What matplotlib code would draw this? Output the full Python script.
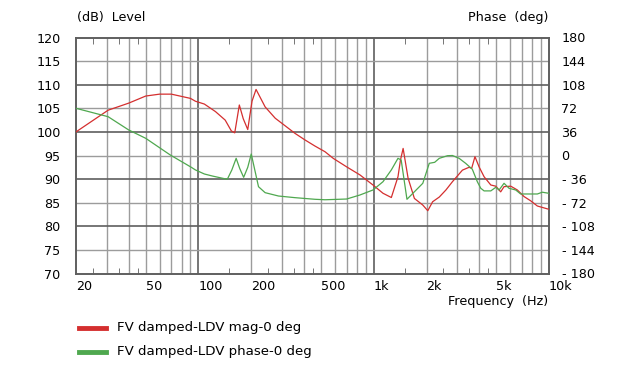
import matplotlib
matplotlib.use("Agg")
import matplotlib.pyplot as plt
import numpy as np

# magnitude trace (Hz, dB)
mag_freq = [20, 30.5, 40, 50, 60, 70, 90, 96, 108, 125, 142, 154, 161, 171, 180, 191,
            202, 213, 240, 274, 312, 355, 405, 462, 527, 587, 700, 833, 990, 1129,
            1260, 1375, 1420, 1471, 1570, 1706, 1905, 2034, 2167, 2366, 2582, 2812,
            3206, 3497, 3621, 3780, 3990, 4262, 4655, 4970, 5300, 5540, 6050, 6595,
            7205, 7860, 8580, 9780, 10000]
mag_db = [100.0, 104.6, 106.1, 107.6, 108.0, 108.0, 107.1, 106.5, 105.9, 104.3, 102.5,
          100.2, 99.8, 105.7, 102.8, 100.5, 106.5, 109.0, 105.3, 102.9, 101.3, 99.7,
          98.3, 97.0, 95.8, 94.4, 92.6, 90.9, 88.75, 87.0, 86.1, 90.5, 94.0, 96.5,
          90.2, 85.9, 84.5, 83.3, 85.2, 86.2, 87.7, 89.45, 91.9, 92.5, 92.3, 94.75,
          92.6, 90.5, 88.75, 88.5, 87.3, 88.4, 88.5, 87.7, 86.3, 85.4, 84.3, 83.7, 83.6]

# phase trace (Hz, deg)
ph_freq = [20, 30.5, 40, 50, 69, 91, 96, 108, 120, 146, 155, 164, 172, 181, 191, 200,
           220, 240, 286, 355, 462, 527, 700, 833, 990, 1129, 1260, 1375, 1434, 1547,
           1746, 1905, 2074, 2226, 2366, 2637, 2812, 3070, 3347, 3652, 3900, 4080,
           4262, 4655, 4970, 5190, 5540, 5915, 6455, 6890, 7690, 8580, 9160, 10000]
ph_deg = [72, 59.2, 38.9, 26.2, 0.8, -18, -22, -28.2, -31.3, -36.3, -22, -4.3, -20,
          -33.3, -18, 2.3, -47.6, -56.7, -61.8, -64.3, -66.8, -67.5, -66.4, -60.3,
          -52.6, -40, -22, -4.3, -6.9, -66.8, -52.6, -42.4, -11.9, -10.4, -4.3, -0.3,
          0, -4.3, -12, -21, -40, -50, -54, -54, -48.5, -52.6, -42.4, -50, -52.6,
          -58.7, -58.7, -58.7, -56, -57.7]

x_labels = ["20", "50", "100", "200", "500", "1k", "2k", "5k", "10k"]
x_label_freqs = [20, 50, 100, 200, 500, 1000, 2000, 5000, 10000]
db_ticks = list(range(70, 121, 5))
phase_ticks = [-180, -144, -108, -72, -36, 0, 36, 72, 108, 144, 180]
legend_labels = ["FV damped-LDV mag-0 deg", "FV damped-LDV phase-0 deg"]

RED = "#d42f2f"
GREEN = "#4fa84f"
DARK = "#5f5f5f"
LIGHT = "#9c9c9c"
FS = 9.2

plt.rcParams["font.family"] = ["DejaVu Sans"]

W, H = 626, 390
fig = plt.figure(figsize=(W / 100, H / 100), dpi=100)
L, R, T, B = 76, 549, 37.5, 273.5
ax = fig.add_axes([L / W, 1 - B / H, (R - L) / W, (B - T) / H])
ax.set_xscale("log")
ax.set_xlim(20, 10000)
ax.set_ylim(70, 120)

# grid
grid_freqs = [f * d for d in (10, 100, 1000) for f in range(2, 10)] + [100, 1000]
for f in grid_freqs:
    if f <= 20 or f >= 10000:
        continue
    dark = f in (100, 1000)
    ax.axvline(f, color=DARK if dark else LIGHT, lw=1.2 if dark else 1.0, zorder=0)
for v in db_ticks[1:-1]:
    dark = v % 10 == 0
    ax.axhline(v, color=DARK if dark else LIGHT, lw=1.2 if dark else 1.0, zorder=0)

for s in ax.spines.values():
    s.set_color(DARK)
    s.set_linewidth(1.4)

ax.set_xticks(x_label_freqs)
ax.set_xticklabels(x_labels)
ax.set_xticks([25, 35, 45, 150, 250, 350, 450, 1500, 2500, 3500, 4500], minor=True)
ax.xaxis.set_minor_formatter(matplotlib.ticker.NullFormatter())
ax.tick_params(axis="x", which="major", length=0, pad=5, labelsize=FS)
for lab in ax.get_xticklabels():
    lab.set_horizontalalignment("left")
ax.tick_params(axis="x", which="minor", direction="in", length=4, color=DARK,
               top=True, bottom=True)

ax.set_yticks(db_ticks)
ax.tick_params(axis="y", length=0, pad=11, labelsize=FS)

ax2 = ax.twinx()
ax2.set_ylim(-180, 180)
ax2.set_yticks(phase_ticks)
ax2.tick_params(axis="y", length=0, pad=9, labelsize=FS)
for lab in ax2.get_yticklabels():
    lab.set_horizontalalignment("left")
ax2.yaxis.set_major_formatter(matplotlib.ticker.FuncFormatter(lambda v, p: f"{v:.0f}".replace("-", "- ")))
for s in ax2.spines.values():
    s.set_visible(False)

ax.plot(mag_freq, mag_db, color=RED, lw=0.9, zorder=3)
ax2.plot(ph_freq, ph_deg, color=GREEN, lw=0.9, zorder=2)

fig.text(77 / W, 1 - 17 / H, "(dB)  Level", fontsize=FS, ha="left", va="center")
fig.text(548 / W, 1 - 17 / H, "Phase  (deg)", fontsize=FS, ha="right", va="center")
fig.text(548 / W, 1 - 302 / H, "Frequency  (Hz)", fontsize=FS, ha="right", va="center")

for yy, col, txt in [(328, RED, legend_labels[0]), (352, GREEN, legend_labels[1])]:
    fig.add_artist(matplotlib.lines.Line2D([79 / W, 106 / W], [1 - yy / H, 1 - yy / H],
                                           color=col, lw=3.5))
    fig.text(117 / W, 1 - yy / H, txt, fontsize=9.6, ha="left", va="center")

fig.savefig("out.png", dpi=100)
